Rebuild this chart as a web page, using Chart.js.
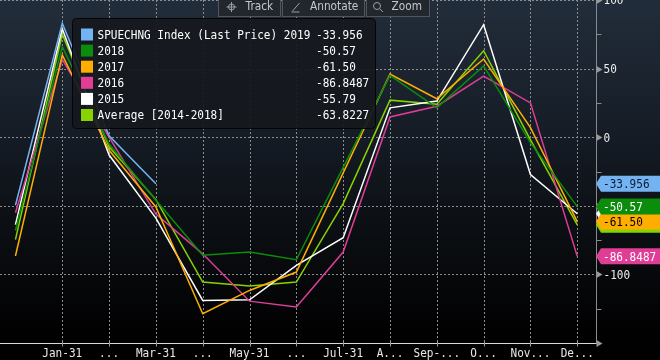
<!DOCTYPE html>
<html><head><meta charset="utf-8">
<script src="https://cdn.jsdelivr.net/npm/chart.js@4.4.1/dist/chart.umd.min.js"></script>
<style>html,body{margin:0;padding:0;background:#000;overflow:hidden}#wrap{width:660px;height:360px}</style>
</head><body><div id="wrap"><canvas id="c" width="660" height="360"></canvas></div>
<script>
// ---- data ----
const monthIndex = [0,1,2,3,4,5,6,7,8,9,10,11,12];          // 0 = prior Dec-31, 1..12 = Jan..Dec
const xTickValues = [1,2,3,4,5,6,7,8,9,10,11,12];
const xLabels = ['Jan-31','...','Mar-31','...','May-31','...','Jul-31','A...','Sep-...','O...','Nov...','De...'];
const yLabelValues = [100, 50, 0, -100];
const seriesNames = ['SPUECHNG Index (Last Price) 2019','2018','2017','2016','2015','Average [2014-2018]'];
const lastValues = ['-33.956','-50.57','-61.50','-86.8487','-55.79','-63.8227'];
const s2019 = [-49.6, 83, 1, -33.956];
const s2018 = [-68, 66, -5, -46, -86, -83.7, -89.3, -22, 45, 21.4, 52, -4, -50.57];
const s2017 = [-86.6, 60, -9.5, -50.8, -128.7, -111.7, -98.3, -26, 46, 28, 57, 7, -61.50];
const s2016 = [-55, 56.5, 0, -56, -85, -119.5, -123.8, -83.7, 14.8, 22.6, 44.5, 25, -86.8487];
const s2015 = [-63.7, 79, -13, -59, -119, -118.5, -93.4, -73.2, 21.4, 26.3, 82, -27.2, -55.79];
const sAvg  = [-74.6, 75, -7, -45.5, -105.6, -108.5, -105.6, -48.4, 27, 24, 63, -2, -63.8227];

const colors = ['#74b3f2','#0b8c0b','#ffae00','#e03d97','#ffffff','#86d300'];
const tagText = ['#0b1a33','#ffffff','#000000','#ffffff','#000000','#000000'];
const allSeries = [s2019, s2018, s2017, s2016, s2015, sAvg];

const MONO = '"DejaVu Sans Mono", monospace';
const FONT = '13px ' + MONO;
const SX = 0.85;

const toPts = arr => arr.map((v, i) => ({x: monthIndex[i], y: v}));

function txt(ctx, s, x, y, sx) {
  ctx.save();
  ctx.translate(x, y);
  ctx.scale(sx || SX, 1);
  ctx.fillText(s, 0, 0);
  ctx.restore();
}

const deco = {
  id: 'deco',
  beforeDraw(chart) {
    const {ctx, width, height} = chart;
    const g = ctx.createLinearGradient(0, 0, 0, height);
    g.addColorStop(0, '#222d3b');
    g.addColorStop(0.35, '#161d27');
    g.addColorStop(0.65, '#0b0e12');
    g.addColorStop(0.9, '#020203');
    g.addColorStop(1, '#000000');
    ctx.save();
    ctx.fillStyle = g;
    ctx.fillRect(0, 0, width, height);
    ctx.restore();
  },
  beforeDatasetsDraw(chart) {
    const {ctx, chartArea: a, scales: {x, y}} = chart;
    ctx.save();
    ctx.strokeStyle = '#8c8c8c';
    ctx.lineWidth = 1;
    ctx.setLineDash([2, 2]);
    xTickValues.forEach(v => {
      const px = Math.round(x.getPixelForValue(v)) + 0.5;
      ctx.beginPath(); ctx.moveTo(px, a.top); ctx.lineTo(px, a.bottom); ctx.stroke();
    });
    [100, 50, 0, -50, -100].forEach(v => {
      const py = Math.round(y.getPixelForValue(v)) + 0.5;
      ctx.beginPath(); ctx.moveTo(a.left, py); ctx.lineTo(a.right, py); ctx.stroke();
    });
    ctx.setLineDash([]);
    // bottom axis
    const by = Math.round(a.bottom) + 0.5;
    ctx.strokeStyle = '#d8d8d8';
    ctx.beginPath(); ctx.moveTo(a.left, by); ctx.lineTo(a.right, by); ctx.stroke();
    ctx.strokeStyle = '#9a9a9a';
    xTickValues.forEach(v => {
      const px = Math.round(x.getPixelForValue(v)) + 0.5;
      ctx.beginPath(); ctx.moveTo(px, by - 3); ctx.lineTo(px, by + 3); ctx.stroke();
    });
    // x labels
    ctx.fillStyle = '#e8e8e8';
    ctx.font = FONT;
    ctx.textBaseline = 'middle';
    ctx.textAlign = 'center';
    xTickValues.forEach((v, i) => {
      txt(ctx, xLabels[i], x.getPixelForValue(v), by + 10);
    });
    // right axis
    const rx = Math.round(a.right) + 0.5;
    ctx.strokeStyle = '#8a8a8a';
    ctx.beginPath(); ctx.moveTo(rx, a.top); ctx.lineTo(rx, a.bottom + 1); ctx.stroke();
    for (let v = 100; v >= -150; v -= 25) {
      const py = Math.round(y.getPixelForValue(v)) + 0.5;
      if (v % 50 === 0) {
        ctx.fillStyle = '#9a9a9a';
        ctx.beginPath(); ctx.moveTo(rx, py - 3.5); ctx.lineTo(rx + 6, py); ctx.lineTo(rx, py + 3.5); ctx.closePath(); ctx.fill();
      } else {
        ctx.beginPath(); ctx.moveTo(rx, py); ctx.lineTo(rx + 5, py); ctx.stroke();
      }
    }
    ctx.fillStyle = '#ececec';
    ctx.textAlign = 'left';
    yLabelValues.forEach(v => {
      txt(ctx, String(v), rx + 7, y.getPixelForValue(v) + 1);
    });
    ctx.restore();
  },
  afterDatasetsDraw(chart) {
    const {ctx, chartArea: a, scales: {y}} = chart;
    ctx.save();
    // legend box
    const lx = 72.5, ly = 18.5, lw = 303, lh = 110;
    ctx.beginPath();
    ctx.roundRect(lx, ly, lw, lh, 4);
    ctx.fillStyle = 'rgba(22,25,30,0.93)';
    ctx.fill();
    ctx.strokeStyle = '#050505';
    ctx.lineWidth = 1;
    ctx.stroke();
    ctx.font = FONT;
    ctx.textBaseline = 'middle';
    ctx.textAlign = 'left';
    seriesNames.forEach((n, i) => {
      const cy = 34.5 + i * 16.1;
      ctx.fillStyle = colors[i];
      ctx.fillRect(81, cy - 6, 12, 12);
      ctx.fillStyle = '#ffffff';
      txt(ctx, n, 97.5, cy + 1);
      txt(ctx, lastValues[i], 316, cy + 1);
    });
    // value tags on the right axis
    const rx = Math.round(a.right);
    const order = [4, 5, 3, 2, 1, 0];
    order.forEach(i => {
      const v = parseFloat(lastValues[i]);
      const cy = y.getPixelForValue(v);
      ctx.beginPath();
      ctx.moveTo(rx, cy);
      ctx.lineTo(rx + 5, cy - 8);
      ctx.lineTo(660, cy - 8);
      ctx.lineTo(660, cy + 8);
      ctx.lineTo(rx + 5, cy + 8);
      ctx.closePath();
      ctx.fillStyle = colors[i];
      ctx.fill();
      ctx.fillStyle = tagText[i];
      txt(ctx, lastValues[i], rx + 7, cy + 1);
    });
    // toolbar
    const btns = [
      {x: 218, w: 63, t: 'Track', tx: 245.5, ix: 231.5, icon: 'cross'},
      {x: 282, w: 83, t: 'Annotate', tx: 310, ix: 296.5, icon: 'pen'},
      {x: 366, w: 64, t: 'Zoom', tx: 391.5, ix: 378, icon: 'mag'}
    ];
    ctx.font = '12px "DejaVu Sans", sans-serif';
    btns.forEach(b => {
      ctx.fillStyle = '#22272d';
      ctx.fillRect(b.x, -1, b.w, 18);
      ctx.strokeStyle = '#50565c';
      ctx.strokeRect(b.x + 0.5, -0.5, b.w - 1, 17);
      ctx.fillStyle = '#c4c8cc';
      txt(ctx, b.t, b.tx, 7, 0.88);
      ctx.strokeStyle = '#9aa0a6';
      ctx.lineWidth = 1;
      const cx = b.ix, cy = 7;
      ctx.beginPath();
      if (b.icon === 'cross') {
        ctx.arc(cx, cy, 3, 0, Math.PI * 2);
        ctx.moveTo(cx - 5, cy); ctx.lineTo(cx + 5, cy);
        ctx.moveTo(cx, cy - 5); ctx.lineTo(cx, cy + 5);
      } else if (b.icon === 'pen') {
        ctx.moveTo(cx - 4, cy + 4); ctx.lineTo(cx + 3, cy - 4);
        ctx.moveTo(cx - 5, cy + 5); ctx.lineTo(cx + 3, cy + 5);
      } else {
        ctx.arc(cx - 1, cy - 1, 3.5, 0, Math.PI * 2);
        ctx.moveTo(cx + 2, cy + 2); ctx.lineTo(cx + 5, cy + 5);
      }
      ctx.stroke();
    });
    ctx.restore();
  }
};

const datasets = allSeries.map((s, i) => ({
  label: seriesNames[i],
  data: toPts(s),
  borderColor: colors[i],
  backgroundColor: colors[i],
  borderWidth: 1.5,
  pointRadius: 0,
  tension: 0,
  fill: false,
  order: i
}));

new Chart(document.getElementById('c'), {
  type: 'line',
  data: {datasets},
  plugins: [deco],
  options: {
    responsive: false,
    animation: false,
    devicePixelRatio: 1,
    layout: {padding: 0},
    plugins: {legend: {display: false}, tooltip: {enabled: false}},
    scales: {
      x: {
        type: 'linear', min: -0.33, max: 12.4,
        afterBuildTicks: s => { s.ticks = xTickValues.map(v => ({value: v})); },
        afterFit: s => { s.height = 17; },
        grid: {display: false, drawTicks: false},
        border: {display: false},
        ticks: {display: false}
      },
      y: {
        position: 'right', min: -150, max: 100,
        afterFit: s => { s.width = 64; },
        grid: {display: false, drawTicks: false},
        border: {display: false},
        ticks: {display: false, stepSize: 25}
      }
    }
  }
});
</script></body></html>
